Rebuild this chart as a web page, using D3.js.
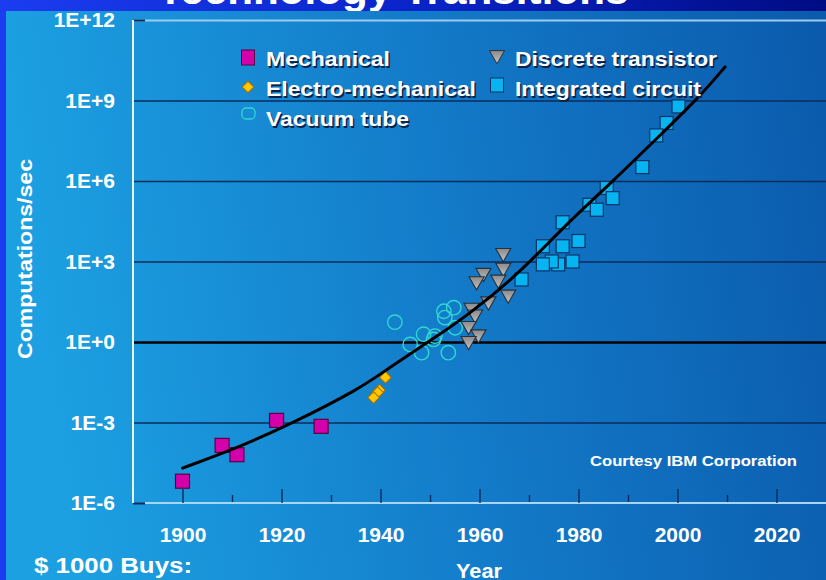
<!DOCTYPE html>
<html><head><meta charset="utf-8">
<script src="https://cdn.jsdelivr.net/npm/d3@7"></script>
<style>body{margin:0;background:#0a1ea0;}svg{display:block;}text{font-family:"Liberation Sans",Arial,sans-serif;font-weight:bold;}</style>
</head><body><svg id="c" width="826" height="580"></svg>
<script>
// ---- data (year, computations/sec) ----
const mechanical = [[1900,6.5e-6],[1908,1.4e-4],[1911,6.3e-5],[1919,1.2e-3],[1928,7.2e-4]];
const electroMechanical = [[1941,0.048],[1939.8,0.016],[1939.4,0.013],[1938.6,0.0085]];
const vacuumTube = [[1942.9,5.5],[1946,0.81],[1948.3,0.40],[1948.7,1.95],[1951,1.66],[1950.7,1.25],[1952.8,14],[1954.8,19],[1953,8.1],[1955.1,3.4],[1953.7,0.40]];
const discreteTransistor = [[1964.8,2090],[1964.8,590],[1960.8,380],[1959.4,186],[1963.8,214],[1965.8,59],[1961.8,33],[1958.4,19],[1959.1,10.7],[1957.8,4.0],[1959.8,1.95],[1957.8,1.1]];
const integratedCircuit = [[2000.2,6.0e8],[1997.8,1.45e8],[1995.7,5.0e7],[1992.9,3.3e6],[1985.7,5.5e5],[1986.9,2.3e5],[1982.2,1.3e5],[1983.7,8.5e4],[1976.8,2.9e4],[1980,5.8e3],[1976.8,3.7e3],[1972.8,3.7e3],[1978.8,1.0e3],[1975.9,780],[1974.6,1.0e3],[1972.8,780],[1968.5,214]];
const trendCurve = [[1900,2.0e-5],[1911,1.12e-4],[1922,8.9e-4],[1936,0.019],[1941,0.089],[1951,1.45],[1958,11.2],[1968,355],[1977,2.0e4],[1987,1.0e6],[1997,6.3e7],[2004.5,1.41e9],[2009.6,1.78e10]];
const yTickValues = [1e-6,1e-3,1,1e3,1e6,1e9,1e12];
const yTickLabels = ["1E-6","1E-3","1E+0","1E+3","1E+6","1E+9","1E+12"];
const xMajorTicks = [1900,1920,1940,1960,1980,2000,2020];
const xMinorTicks = [1910,1930,1950,1970,1990,2010];
const legendItems = ["Mechanical","Electro-mechanical","Vacuum tube","Discrete transistor","Integrated circuit"];
const titleText = "Technology Transitions";

const svg = d3.select("#c");
const defs = svg.append("defs");
const g1 = defs.append("linearGradient").attr("id","slide").attr("x1",0).attr("x2",1).attr("y1",0).attr("y2",0);
g1.append("stop").attr("offset",0).attr("stop-color","#1c3cf0");
g1.append("stop").attr("offset",0.5).attr("stop-color","#0a24c8");
g1.append("stop").attr("offset",1).attr("stop-color","#000c84");
const g2 = defs.append("linearGradient").attr("id","panel").attr("x1",0).attr("x2",1).attr("y1",0.1).attr("y2",0);
g2.append("stop").attr("offset",0).attr("stop-color","#1ca0e2");
g2.append("stop").attr("offset",0.5).attr("stop-color","#137bc9");
g2.append("stop").attr("offset",1).attr("stop-color","#0b5aac");
const g3 = defs.append("linearGradient").attr("id","gray").attr("x1",0).attr("x2",0).attr("y1",0).attr("y2",1);
g3.append("stop").attr("offset",0).attr("stop-color","#c4c4c4");
g3.append("stop").attr("offset",1).attr("stop-color","#8a8a8a");

svg.append("rect").attr("width",826).attr("height",580).attr("fill","url(#slide)");
svg.append("text").attr("x",393).attr("y",4).attr("text-anchor","middle").attr("font-size",40)
  .attr("textLength",471).attr("lengthAdjust","spacingAndGlyphs").attr("fill","#fff").text(titleText);
svg.append("rect").attr("x",6).attr("y",11).attr("width",820).attr("height",569).attr("fill","url(#panel)");

const x = d3.scaleLinear().domain([1890,2030]).range([133,826]);
const y = d3.scaleLog().domain([1e-6,1e12]).range([503,20]);

// y axis with gridlines
const yAxis = svg.append("g").attr("transform","translate(133,0)")
  .call(d3.axisLeft(y).tickValues(yTickValues).tickFormat((d,i)=>yTickLabels[i]).tickSize(-(826-133)).tickSizeOuter(0).tickPadding(18));
yAxis.select(".domain").remove();
yAxis.selectAll(".tick line").attr("stroke",d=>d===1?"#000":(d===1e12?"#9ccbee":"#0a2c5a"))
  .attr("stroke-width",d=>d===1?2.6:(d===1e12?2:1.4));
yAxis.selectAll(".tick").filter(d=>d===1e-6).select("line").attr("stroke","none");
yAxis.selectAll(".tick").filter(d=>d===1e12||d===1e-6).append("line").attr("x1",0).attr("x2",12).attr("stroke","#0a2c5a").attr("stroke-width",2);
yAxis.selectAll(".tick text").attr("fill","#fff").attr("font-size",21).attr("font-family","Liberation Sans, Arial, sans-serif");

// x axis
const xAxisMinor = svg.append("g").attr("transform","translate(0,503)")
  .call(d3.axisBottom(x).tickValues(xMinorTicks).tickFormat("").tickSize(-8).tickSizeOuter(0));
xAxisMinor.select(".domain").remove();
xAxisMinor.selectAll(".tick line").attr("stroke","#0a2c5a").attr("stroke-width",1.4);
const xAxis = svg.append("g").attr("transform","translate(0,503)")
  .call(d3.axisBottom(x).tickValues(xMajorTicks).tickFormat(d3.format("d")).tickSize(-14).tickSizeOuter(0).tickPadding(24));
xAxis.select(".domain").attr("stroke","#a8d6f2").attr("stroke-width",2).attr("d","M145,0H826");
xAxis.selectAll(".tick line").attr("stroke","#0a2c5a").attr("stroke-width",1.4);
xAxis.selectAll(".tick text").attr("fill","#fff").attr("font-size",21).attr("font-family","Liberation Sans, Arial, sans-serif");
// y axis line
svg.append("line").attr("x1",133).attr("x2",133).attr("y1",20).attr("y2",503).attr("stroke","#e6f4ff").attr("stroke-width",2);

// labels with shadow helper
function label(t, xx, yy, size, opts={}) {
  const grp = svg.append("g");
  const layers = opts.noShadow ? [[0,0,"#fff"]] : [[1.5,1.5,"#0a2248"],[0,0,"#fff"]];
  layers.forEach(([dx,dy,c])=>{
    const el = grp.append("text").attr("x",xx+dx).attr("y",yy+dy).attr("font-size",size).attr("fill",c)
      .attr("text-anchor",opts.anchor||"start").text(t);
    if(opts.len) el.attr("textLength",opts.len).attr("lengthAdjust","spacingAndGlyphs");
    if(opts.rot) el.attr("transform",`rotate(-90,${xx+dx},${yy+dy})`);
  });
}
label("Computations/sec", 32, 259, 21, {anchor:"middle", rot:true, len:200, noShadow:true});
label("Year", 479, 578, 20, {anchor:"middle", len:46, noShadow:true});
label("$ 1000 Buys:", 34, 573, 22, {len:158, noShadow:true});
label("Courtesy IBM Corporation", 590, 466, 14.5, {len:207, noShadow:true});

const plot = svg.append("g");
// vacuum tubes
plot.selectAll(".vt").data(vacuumTube).join("circle").attr("class","vt").attr("cx",d=>x(d[0])).attr("cy",d=>y(d[1])).attr("r",7.2)
  .attr("fill","none").attr("stroke","#2fd8d0").attr("stroke-width",1.4);
// transistors
const tri = d3.symbol().type(d3.symbolTriangle).size(100);
plot.selectAll(".dt").data(discreteTransistor).join("path").attr("class","dt").attr("d",tri)
  .attr("transform",d=>`translate(${x(d[0])},${y(d[1])}) rotate(180)`)
  .attr("fill","url(#gray)").attr("stroke","#2a2f38").attr("stroke-width",1.1);
// IC
plot.selectAll(".ic").data(integratedCircuit).join("rect").attr("class","ic")
  .attr("x",d=>x(d[0])-6.5).attr("y",d=>y(d[1])-6.5).attr("width",13).attr("height",13)
  .attr("fill","#05b4f0").attr("stroke","#0b3468").attr("stroke-width",1.2);
// mechanical
plot.selectAll(".me").data(mechanical).join("rect").attr("class","me")
  .attr("x",d=>x(d[0])-7).attr("y",d=>y(d[1])-7).attr("width",14).attr("height",14)
  .attr("fill","#d400aa").attr("stroke","#5a0040").attr("stroke-width",1.2);
// electro-mechanical (square rotated 45deg)
const dia = d3.symbol().type(d3.symbolSquare).size(68);
plot.selectAll(".em").data(electroMechanical).join("path").attr("class","em").attr("d",dia)
  .attr("transform",d=>`translate(${x(d[0])},${y(d[1])}) rotate(45)`)
  .attr("fill","#ffc800").attr("stroke","#a86a00").attr("stroke-width",1);

// trend curve
plot.append("path").datum(trendCurve)
  .attr("d", d3.line().x(d=>x(d[0])).y(d=>y(d[1])).curve(d3.curveBasis))
  .attr("fill","none").attr("stroke","#000").attr("stroke-width",3).attr("stroke-linecap","round");

// legend
const lg = svg.append("g");
lg.append("rect").attr("x",241.5).attr("y",50).attr("width",13).attr("height",15).attr("fill","#d400aa").attr("stroke","#5a0040");
lg.append("path").attr("d",dia).attr("transform","translate(248,87) rotate(45)").attr("fill","#ffc800").attr("stroke","#a86a00");
lg.append("rect").attr("x",242).attr("y",108).attr("width",13).attr("height",11).attr("rx",4).attr("fill","none").attr("stroke","#2fd8d0").attr("stroke-width",1.3);
lg.append("path").attr("d",tri).attr("transform","translate(497,55) rotate(180)").attr("fill","url(#gray)").attr("stroke","#2a2f38");
lg.append("rect").attr("x",490.5).attr("y",78).attr("width",13).attr("height",14).attr("fill","#05b4f0").attr("stroke","#0b3468");
label(legendItems[0], 266, 66, 21, {len:124});
label(legendItems[1], 266, 96, 21, {len:210});
label(legendItems[2], 266, 126, 21, {len:143});
label(legendItems[3], 515, 66, 21, {len:202});
label(legendItems[4], 515, 96, 21, {len:186});
</script></body></html>
